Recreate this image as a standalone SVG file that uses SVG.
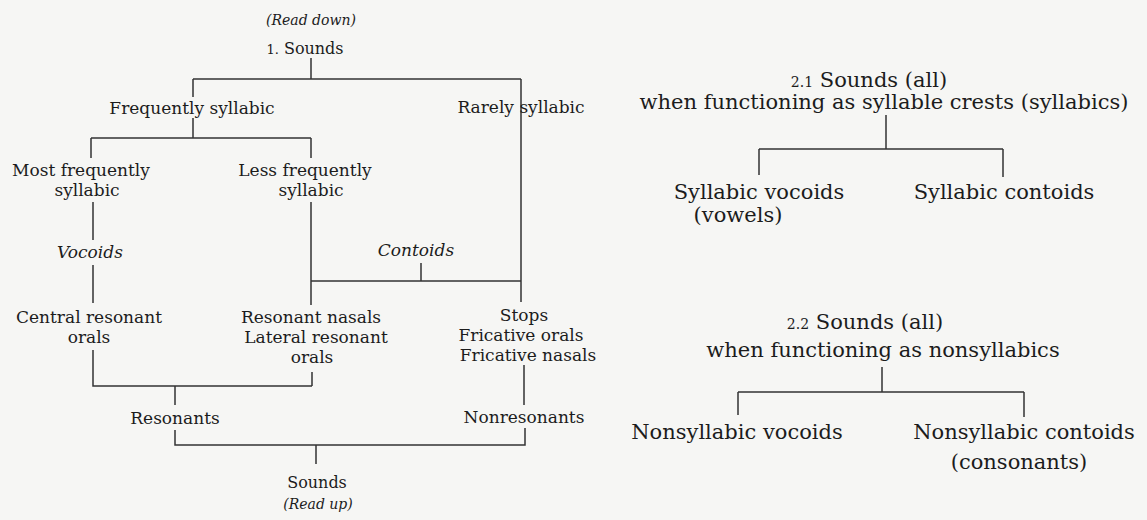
<svg xmlns="http://www.w3.org/2000/svg" width="1147" height="520" viewBox="0 0 1147 520">
<style>
.t{font-family:"DejaVu Serif","Liberation Serif",serif;fill:#1c1c1c;text-anchor:middle}
.l{font-size:17px}
.r{font-size:21px}
.i{font-style:italic}
.c{fill:none;stroke:#333;stroke-width:1.5}
</style>
<rect width="1147" height="520" fill="#f6f6f4"/>
<g id="connectors" class="c">
<path d="M311 58V79M193 79H521M193 79V97M521 79V302M193 118V138M91 138H311M91 138V158M311 138V158"/>
<path d="M93 202V240M93 265V303M311 202V305M421 263V281M311 281H521"/>
<path d="M93 350V386H312M312 372V386M175 386V405M175 430V445H525V428M524 365V405M316 445V464"/>
<path d="M886 115V149M759 149H1003M759 149V175M1003 149V177"/>
<path d="M882 367V392M738 392H1024M738 392V415M1024 392V417"/>
</g>
<g id="n-readdown"><text class="t i" x="311" y="25" font-size="14">(Read down)</text></g>
<g id="n-sounds1"><text class="t" x="305" y="54" font-size="16"><tspan font-size="13">1.</tspan> Sounds</text></g>
<g id="n-freq"><text class="t l" x="192" y="114">Frequently syllabic</text></g>
<g id="n-rare"><text class="t l" x="521" y="113">Rarely syllabic</text></g>
<g id="n-most"><text class="t l" x="81" y="176">Most frequently</text><text class="t l" x="87" y="196">syllabic</text></g>
<g id="n-less"><text class="t l" x="305" y="176">Less frequently</text><text class="t l" x="311" y="196">syllabic</text></g>
<g id="n-vocoids"><text class="t l i" x="90" y="258">Vocoids</text></g>
<g id="n-contoids"><text class="t l i" x="416" y="256">Contoids</text></g>
<g id="n-central"><text class="t l" x="89" y="323">Central resonant</text><text class="t l" x="89" y="343">orals</text></g>
<g id="n-lateral"><text class="t l" x="311" y="323">Resonant nasals</text><text class="t l" x="316" y="343">Lateral resonant</text><text class="t l" x="312" y="363">orals</text></g>
<g id="n-stops"><text class="t l" x="524" y="321">Stops</text><text class="t l" x="521" y="341">Fricative orals</text><text class="t l" x="528" y="361">Fricative nasals</text></g>
<g id="n-resonants"><text class="t l" x="175" y="424">Resonants</text></g>
<g id="n-nonresonants"><text class="t l" x="524" y="423">Nonresonants</text></g>
<g id="n-sounds-up"><text class="t" x="317" y="488" font-size="16">Sounds</text><text class="t i" x="318" y="509" font-size="14">(Read up)</text></g>
<g id="n-21"><text class="t r" x="869" y="87"><tspan font-size="14">2.1</tspan> Sounds (all)</text><text class="t r" x="884" y="109">when functioning as syllable crests (syllabics)</text></g>
<g id="n-sylvoc"><text class="t r" x="759" y="199">Syllabic vocoids</text><text class="t r" x="738" y="222">(vowels)</text></g>
<g id="n-sylcon"><text class="t r" x="1004" y="199">Syllabic contoids</text></g>
<g id="n-22"><text class="t r" x="865" y="329"><tspan font-size="14">2.2</tspan> Sounds (all)</text><text class="t r" x="883" y="357">when functioning as nonsyllabics</text></g>
<g id="n-nonvoc"><text class="t r" x="737" y="439">Nonsyllabic vocoids</text></g>
<g id="n-noncon"><text class="t r" x="1024" y="439">Nonsyllabic contoids</text><text class="t r" x="1019" y="469">(consonants)</text></g>
</svg>
